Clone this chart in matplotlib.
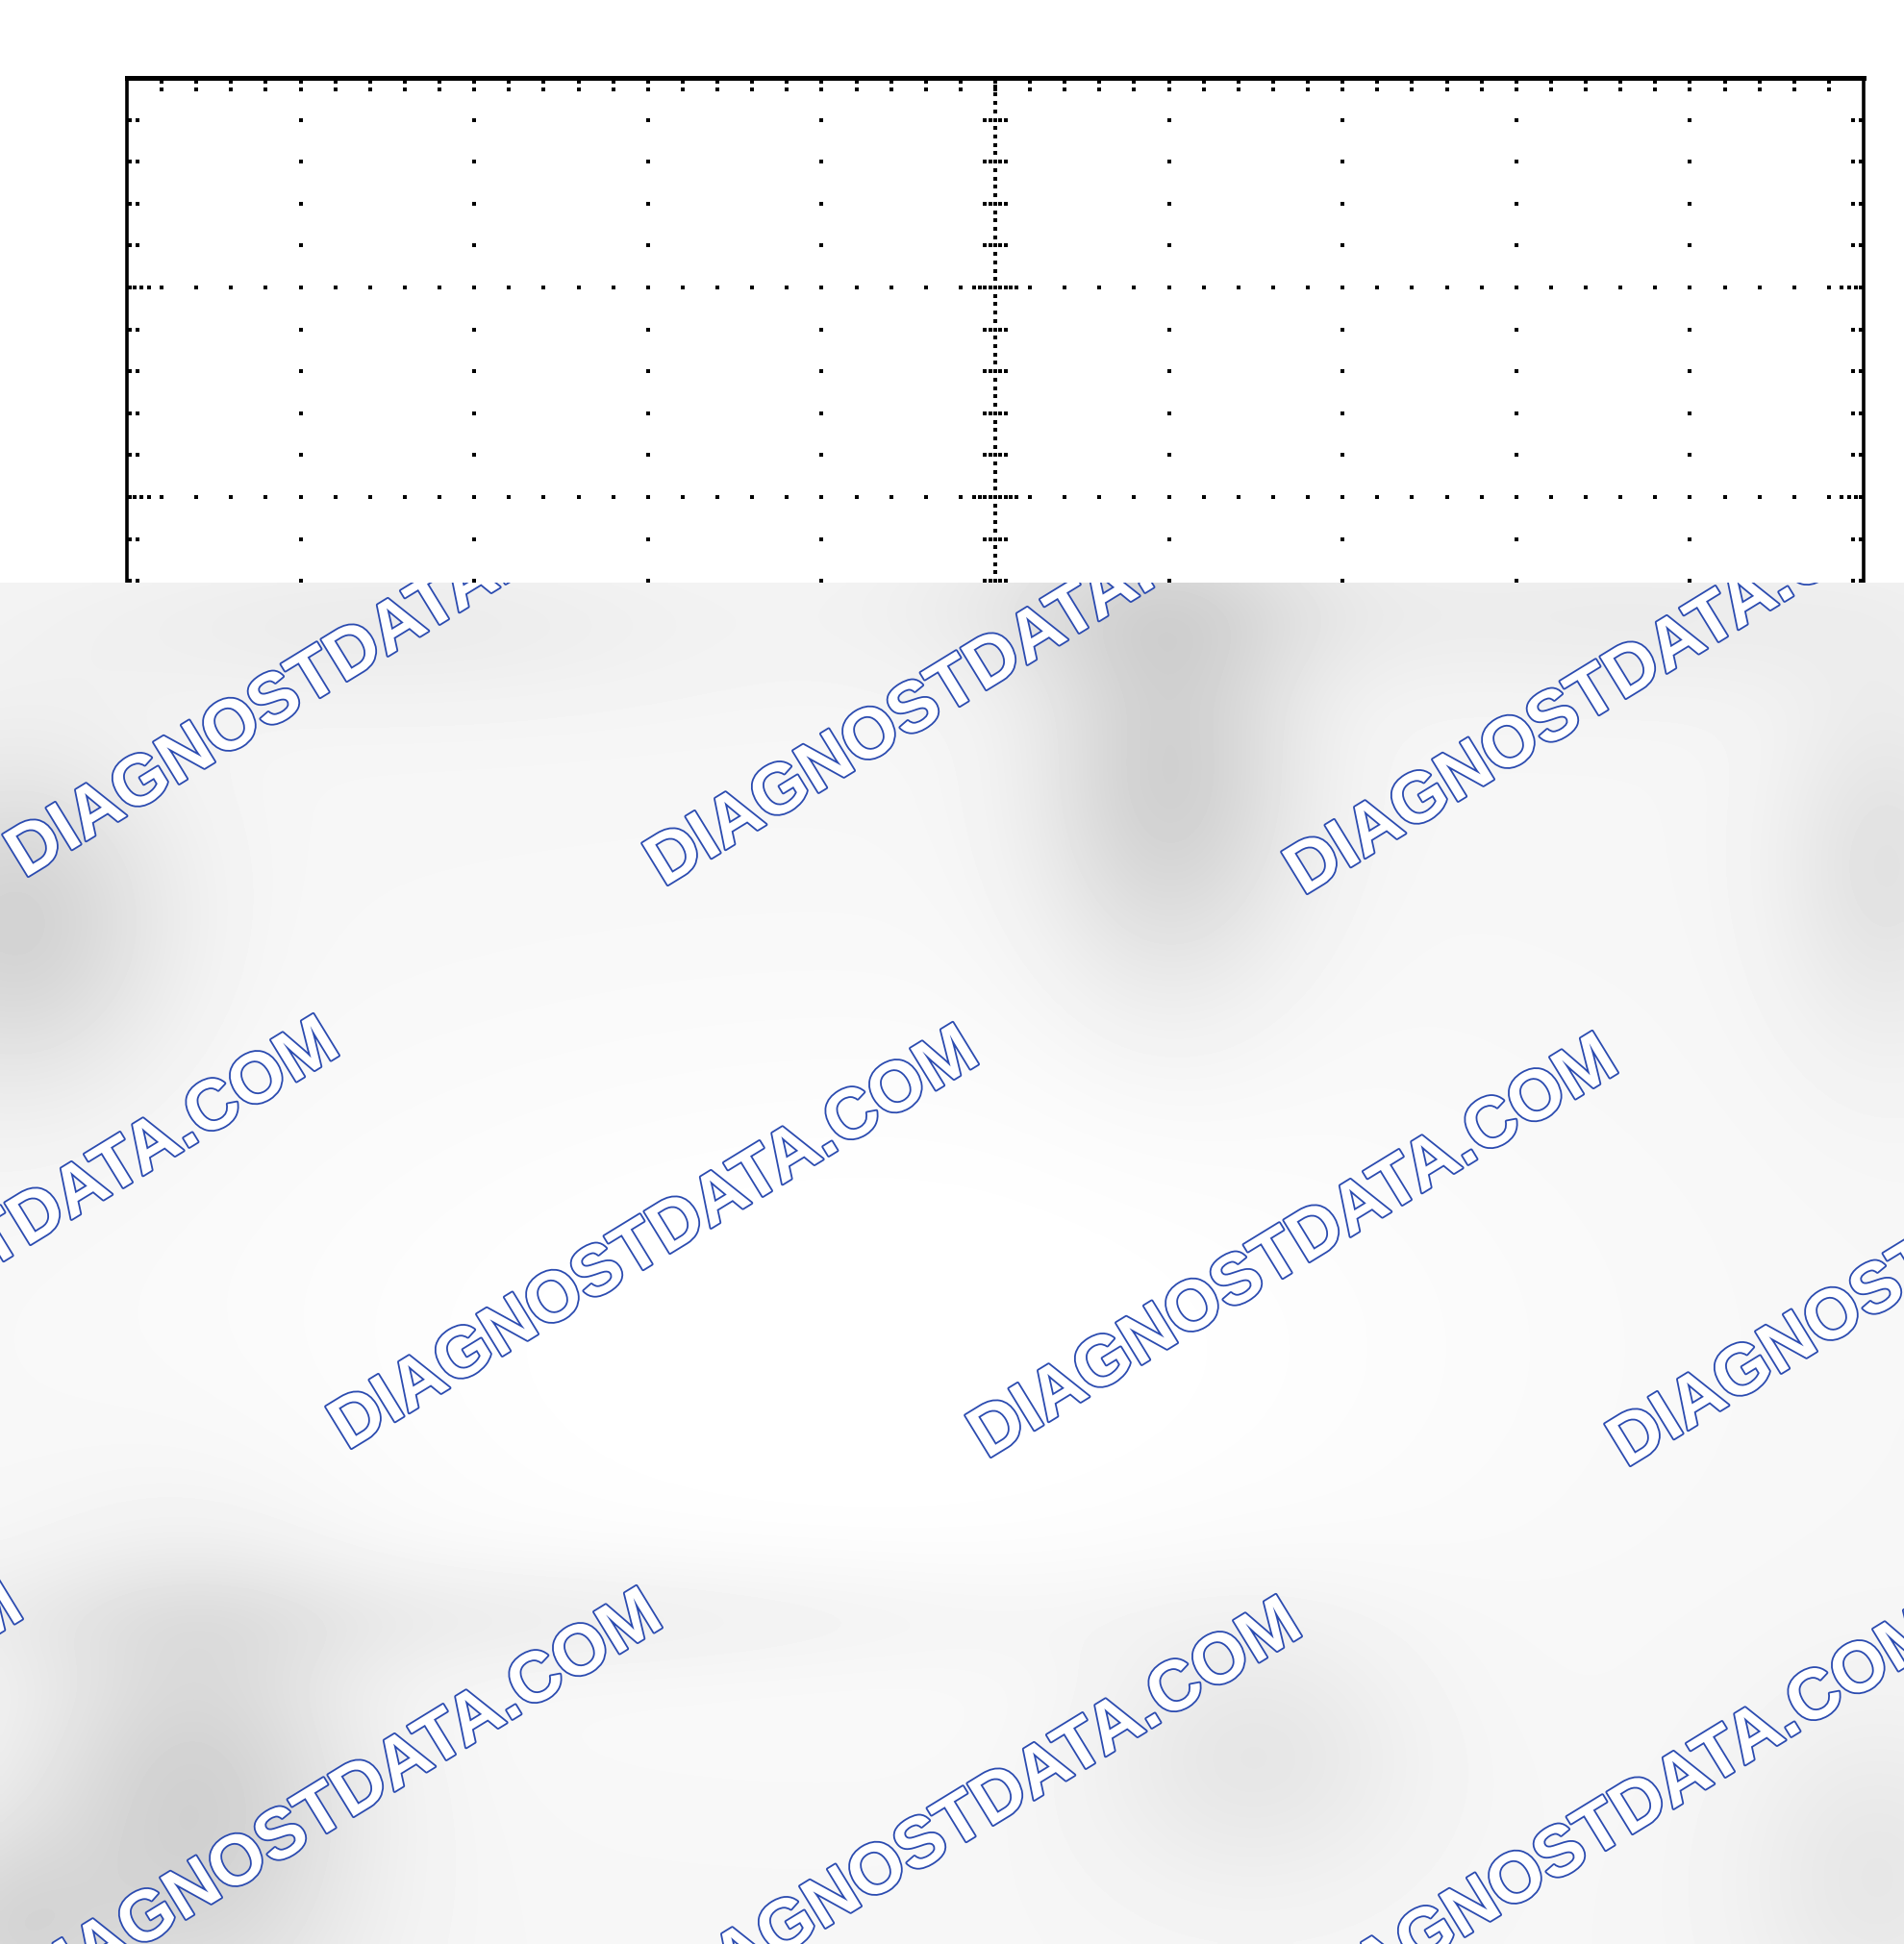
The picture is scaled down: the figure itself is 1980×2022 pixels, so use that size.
import numpy as np
import matplotlib
matplotlib.use("Agg")
import matplotlib.pyplot as plt
import matplotlib.patheffects as pe

# Graticule: 10 x 8 divisions, 5 minor steps per division
x_divisions = list(range(0, 11))
y_divisions = list(range(-4, 5))
minor_steps = 5

# Watermark
watermark_text = "DIAGNOSTDATA.COM"
watermark_color = "#2b4bb0"

# soft grey spots on the cover sheet: (x px, y px, sigma x, sigma y, depth)
shade_spots = [
    (1215, 810, 95, 150, 0.15),
    (1180, 630, 160, 60, 0.07),
    (15, 960, 110, 120, 0.14),
    (200, 1880, 120, 160, 0.15),
    (1300, 1820, 120, 100, 0.07),
    (1960, 900, 80, 130, 0.08),
    (0, 2010, 80, 80, 0.10),
    (1950, 1950, 100, 120, 0.06),
    (400, 650, 250, 60, 0.04),
    (1700, 640, 250, 60, 0.04),
    (450, 1680, 450, 45, 0.045),
    (900, 1400, 500, 250, -0.04),
]

W, H = 1980, 2022
fig = plt.figure(figsize=(W / 100, H / 100), dpi=100)
fig.patch.set_facecolor("white")

# ---- graticule ----
left_px, top_px, div_w, div_h = 132, 81, 180.6, 218
ax = fig.add_axes([left_px / W, 1 - (top_px + 8 * div_h) / H,
                   10 * div_w / W, 8 * div_h / H])
ax.set_xlim(x_divisions[0], x_divisions[-1])
ax.set_ylim(y_divisions[0], y_divisions[-1])
ax.set_xticks([])
ax.set_yticks([])
for s in ax.spines.values():
    s.set_linewidth(2.6)
ax.spines["top"].set_linewidth(3.6)

xmin, xmax = x_divisions[0], x_divisions[-1]
ymin, ymax = y_divisions[0], y_divisions[-1]
xs_minor = np.round(np.arange(xmin, xmax + 1e-6, 1 / minor_steps), 3)
ys_minor = np.round(np.arange(ymin, ymax + 1e-6, 1 / minor_steps), 3)
xc = (xmin + xmax) / 2
yc = (ymin + ymax) / 2

px, py = [], []

# dotted major lines
for x in x_divisions[1:-1]:
    if x == xc:
        continue
    for y in ys_minor:
        px.append(x); py.append(y)
for y in y_divisions[1:-1]:
    if y == yc:
        continue
    for x in xs_minor:
        px.append(x); py.append(y)

# centre axes with fine dots and cross ticks
for y in np.arange(ymin, ymax + 1e-6, 0.04):
    px.append(xc); py.append(y)
for x in np.arange(xmin, xmax + 1e-6, 0.04):
    px.append(x); py.append(yc)
for y in ys_minor:
    offs = [0.03, 0.06]
    if abs(y - round(y)) < 1e-6:
        offs = [0.03, 0.06, 0.09, 0.12]
    for o in offs:
        px += [xc - o, xc + o]; py += [y, y]
for x in xs_minor:
    offs = [0.025, 0.05]
    if abs(x - round(x)) < 1e-6:
        offs = [0.025, 0.05, 0.075, 0.1]
    for o in offs:
        px += [x, x]; py += [yc - o, yc + o]

# edge ticks
for x in xs_minor[1:-1]:
    for o in [0.02, 0.055]:
        px += [x, x]; py += [ymax - o, ymin + o]
for y in ys_minor[1:-1]:
    offs = [0.017, 0.06]
    if abs(y - round(y)) < 1e-6:
        offs = [0.017, 0.045, 0.085, 0.125]
    for o in offs:
        px += [xmin + o, xmax - o]; py += [y, y]

ax.plot(px, py, linestyle="none", marker="s", markersize=2.5,
        markeredgewidth=0, color="black")

# ---- cover sheet with watermark ----
cover_top = 606
ax_bg = fig.add_axes([0, 0, 1, (H - cover_top) / H])
gx, gy = np.meshgrid(np.arange(0, W, 4), np.arange(cover_top, H, 4))
field = np.full(gx.shape, 0.965)
for cx, cy, sx, sy, d in shade_spots:
    field -= d * np.exp(-((gx - cx) ** 2 / (2 * sx ** 2) + (gy - cy) ** 2 / (2 * sy ** 2)))
field = np.clip(field, 0, 1)
ax_bg.imshow(field, cmap="gray", vmin=0, vmax=1, interpolation="bilinear",
             extent=[0, W, H, cover_top], aspect="auto")
ax_bg.set_xlim(0, W)
ax_bg.set_ylim(H, cover_top)
ax_bg.axis("off")

origin = np.array([345.0, 695.0])
step_col = np.array([665.0, 9.0])
step_row = np.array([-329.0, 586.0])
for j in range(3):
    for i in range(-1, 4):
        cx, cy = origin + i * step_col + j * step_row
        ax_bg.text(cx, cy, watermark_text, rotation=31.5, rotation_mode="anchor",
                   ha="center", va="center", fontsize=53, fontweight="bold",
                   family="Liberation Sans", color="white", clip_on=True,
                   path_effects=[pe.withStroke(linewidth=2.6, foreground=watermark_color)])

fig.savefig("out.png", dpi=100)
